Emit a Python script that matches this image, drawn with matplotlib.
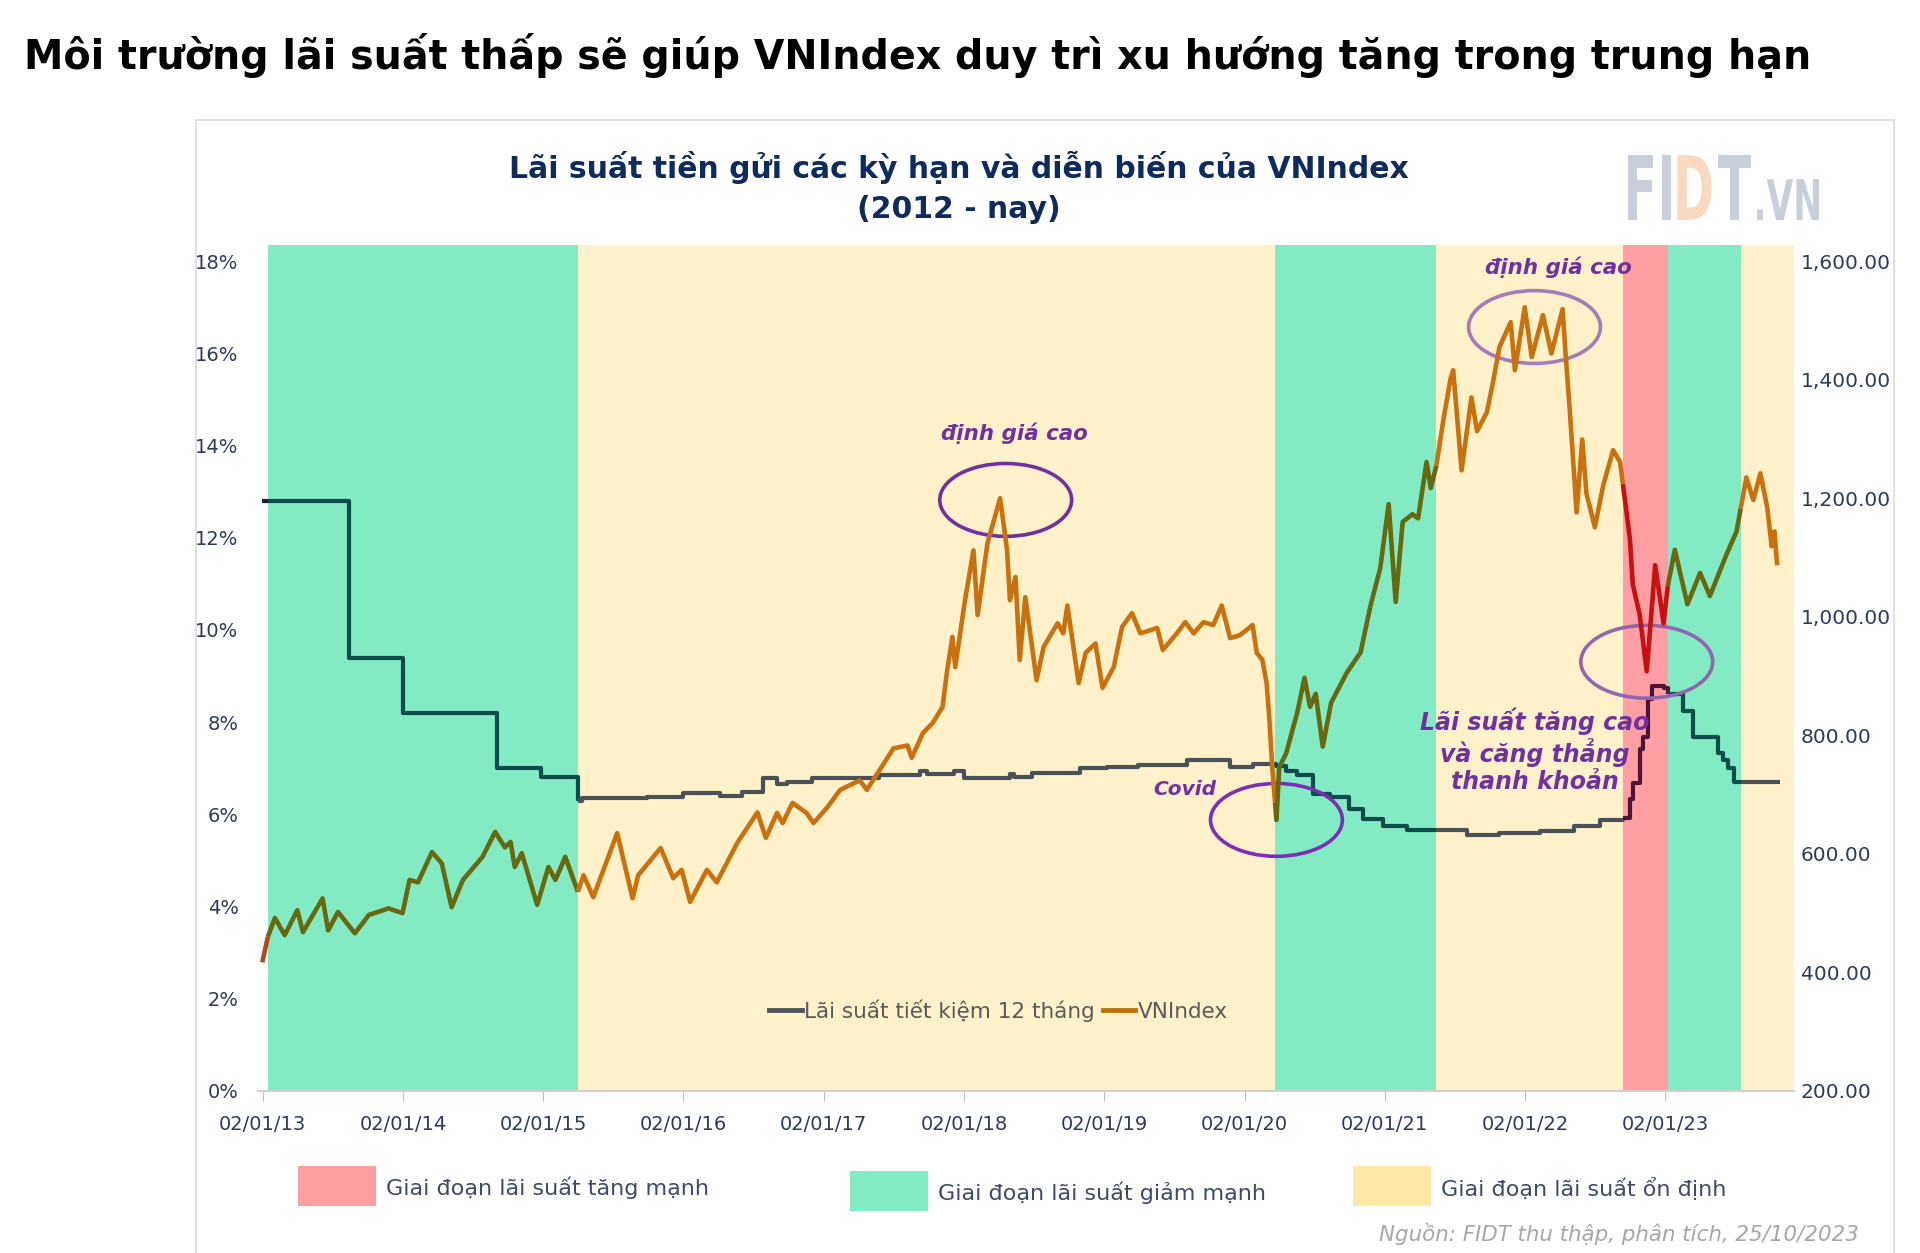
import matplotlib
matplotlib.use('Agg')
import matplotlib.pyplot as plt
from matplotlib.patches import Ellipse, Rectangle, PathPatch
from matplotlib.lines import Line2D
from matplotlib.textpath import TextPath
from matplotlib.font_manager import FontProperties
from matplotlib.transforms import Affine2D, IdentityTransform
import numpy as np

# DỮ LIỆU (năm thập phân)
nam_vn = [2013.00, 2013.04, 2013.09, 2013.16, 2013.25, 2013.29, 2013.43, 2013.47, 2013.54, 2013.66,
          2013.76, 2013.90, 2014.00, 2014.05, 2014.11, 2014.21, 2014.28, 2014.35, 2014.43, 2014.57,
          2014.66, 2014.73, 2014.77, 2014.80, 2014.85, 2014.96, 2015.04, 2015.09, 2015.16, 2015.25,
          2015.29, 2015.36, 2015.53, 2015.64, 2015.68, 2015.84, 2015.93, 2015.99, 2016.05, 2016.17,
          2016.24, 2016.39, 2016.53, 2016.59, 2016.67, 2016.71, 2016.78, 2016.88, 2016.93, 2017.03,
          2017.12, 2017.26, 2017.31, 2017.40, 2017.50, 2017.60, 2017.63, 2017.71, 2017.78, 2017.85,
          2017.88, 2017.92, 2017.94, 2018.01, 2018.07, 2018.10, 2018.17, 2018.26, 2018.31, 2018.33,
          2018.37, 2018.40, 2018.44, 2018.52, 2018.57, 2018.67, 2018.71, 2018.74, 2018.82, 2018.87,
          2018.94, 2018.99, 2019.07, 2019.13, 2019.20, 2019.26, 2019.38, 2019.42, 2019.52, 2019.58,
          2019.64, 2019.71, 2019.78, 2019.84, 2019.90, 2019.97, 2020.06, 2020.09, 2020.13, 2020.16,
          2020.18, 2020.20, 2020.23, 2020.25, 2020.30, 2020.38, 2020.43, 2020.47, 2020.51, 2020.56,
          2020.62, 2020.73, 2020.83, 2020.90, 2020.97, 2021.03, 2021.08, 2021.13, 2021.20, 2021.24,
          2021.30, 2021.33, 2021.37, 2021.42, 2021.47, 2021.49, 2021.55, 2021.62, 2021.66, 2021.73,
          2021.77, 2021.82, 2021.90, 2021.93, 2022.00, 2022.05, 2022.13, 2022.19, 2022.27, 2022.29,
          2022.32, 2022.37, 2022.41, 2022.44, 2022.50, 2022.56, 2022.63, 2022.68, 2022.75, 2022.77,
          2022.82, 2022.87, 2022.93, 2022.99, 2023.02, 2023.07, 2023.16, 2023.25, 2023.32, 2023.44,
          2023.51, 2023.58, 2023.63, 2023.68, 2023.73, 2023.76, 2023.78, 2023.80]
vnindex = [417, 460, 492, 463, 505, 468, 525, 471, 502, 466,
           497, 508, 500, 556, 552, 603, 584, 510, 556, 595,
           637, 611, 620, 578, 601, 514, 578, 556, 595, 536,
           564, 527, 635, 525, 564, 610, 559, 573, 519, 573,
           552, 620, 670, 627, 669, 652, 686, 669, 652, 679,
           708, 724, 708, 741, 778, 783, 762, 804, 821, 848,
           905, 966, 915, 1028, 1112, 1003, 1124, 1200, 1112, 1028,
           1067, 927, 1033, 893, 949, 989, 972, 1019, 888, 939,
           955, 880, 915, 983, 1006, 972, 981, 944, 972, 991,
           972, 991, 986, 1019, 964, 969, 986, 939, 927, 888,
           826, 746, 657, 746, 770, 840, 897, 848, 870, 781,
           855, 905, 940, 1018, 1082, 1190, 1025, 1160, 1173, 1166,
           1261, 1217, 1255, 1332, 1400, 1416, 1247, 1370, 1313, 1345,
           1391, 1455, 1497, 1416, 1522, 1438, 1509, 1444, 1519, 1448,
           1352, 1176, 1299, 1208, 1151, 1222, 1281, 1261, 1131, 1055,
           1003, 908, 1087, 989, 1052, 1113, 1021, 1074, 1035, 1106,
           1144, 1235, 1197, 1242, 1183, 1119, 1144, 1087]

nam_ls = [2013.00, 2013.62, 2014.00, 2014.67, 2014.99, 2015.25, 2015.28, 2015.74, 2016.00, 2016.26,
          2016.42, 2016.57, 2016.67, 2016.74, 2016.92, 2017.40, 2017.69, 2017.74, 2017.93, 2018.00,
          2018.33, 2018.36, 2018.49, 2018.83, 2019.02, 2019.24, 2019.59, 2019.90, 2020.06, 2020.23,
          2020.30, 2020.38, 2020.49, 2020.61, 2020.75, 2020.85, 2020.99, 2021.16, 2021.59, 2021.82,
          2022.11, 2022.35, 2022.54, 2022.70, 2022.75, 2022.77, 2022.82, 2022.84, 2022.88, 2022.91,
          2022.99, 2023.02, 2023.13, 2023.20, 2023.38, 2023.41, 2023.45, 2023.49, 2023.82]
lai_suat = [12.8, 9.4, 8.2, 7.0, 6.8, 6.28, 6.35, 6.38, 6.46, 6.40,
            6.49, 6.79, 6.66, 6.70, 6.79, 6.86, 6.94, 6.88, 6.93, 6.79,
            6.88, 6.81, 6.90, 7.00, 7.03, 7.07, 7.18, 7.03, 7.09, 7.05,
            6.95, 6.85, 6.44, 6.37, 6.12, 5.91, 5.75, 5.66, 5.56, 5.60,
            5.64, 5.75, 5.87, 5.92, 6.33, 6.68, 7.42, 7.67, 8.50, 8.79,
            8.74, 8.62, 8.25, 7.67, 7.33, 7.17, 7.00, 6.71, 6.71]

gd_bat_dau = [2013.04, 2015.25, 2020.22, 2021.37, 2022.70, 2023.02, 2023.54]
gd_ket_thuc = [2015.25, 2020.22, 2021.37, 2022.70, 2023.02, 2023.54, 2023.92]
gd_loai = ['giam', 'on_dinh', 'giam', 'on_dinh', 'tang', 'giam', 'on_dinh']

nam_ticks = list(range(2013, 2024))
nhan_ticks = ['02/01/13', '02/01/14', '02/01/15', '02/01/16', '02/01/17', '02/01/18',
              '02/01/19', '02/01/20', '02/01/21', '02/01/22', '02/01/23']

# MÀU
mau_nen = {'giam': '#83EBC3', 'on_dinh': '#FFF1C9', 'tang': '#FF9FA4'}
mau_vn = {'truoc': '#B04A1A', 'giam': '#67680F', 'on_dinh': '#C9700F', 'tang': '#C81010'}
mau_ls = {'truoc': '#0B1F4D', 'giam': '#0E4B4B', 'on_dinh': '#4A5158', 'tang': '#4C1535'}
xanh_dam = '#2E3A5C'
tim = '#7030A0'


# HÀM
def cat_doan(xs, ys, t0, t1, bac_thang):
    t1 = min(t1, xs[-1])
    if t1 <= t0:
        return None, None
    m = (xs > t0) & (xs < t1)
    if bac_thang:
        y0 = ys[np.searchsorted(xs, t0, side='right') - 1]
        y1 = ys[np.searchsorted(xs, t1, side='right') - 1]
    else:
        y0 = np.interp(t0, xs, ys)
        y1 = np.interp(t1, xs, ys)
    x = np.concatenate([[t0], xs[m], [t1]])
    y = np.concatenate([[y0], ys[m], [y1]])
    return x, y


def ve_duong(ax, xs, ys, mau, lw, bac_thang):
    xs = np.array(xs, dtype=float)
    ys = np.array(ys, dtype=float)
    ds = 'steps-post' if bac_thang else 'default'
    doan = [(xs[0], gd_bat_dau[0], 'truoc')] + list(zip(gd_bat_dau, gd_ket_thuc, gd_loai))
    for t0, t1, loai in doan:
        x, y = cat_doan(xs, ys, t0, t1, bac_thang)
        if x is None:
            continue
        ax.plot(x, y, color=mau[loai], lw=lw, drawstyle=ds, solid_joinstyle='round',
                solid_capstyle='butt', zorder=3)


# CORE
fig = plt.figure(figsize=(19.2, 12.53), dpi=100)
ax = fig.add_axes([0.1344, 0.1293, 0.8, 0.6752])
ax2 = ax.twinx()

y_top = 18.35
ax.set_xlim(2012.97, 2023.92)
ax.set_ylim(0, y_top)
ax2.set_ylim(200, 200 + y_top / 18 * 1400)

for t0, t1, loai in zip(gd_bat_dau, gd_ket_thuc, gd_loai):
    ax.axvspan(t0, t1, color=mau_nen[loai], lw=0, zorder=0)

ve_duong(ax, nam_ls, lai_suat, mau_ls, 3.0, True)
ve_duong(ax2, nam_vn, vnindex, mau_vn, 3.3, False)

# trục
ax.set_yticks(range(0, 19, 2))
ax.set_yticklabels([f'{v}%' for v in range(0, 19, 2)])
ax2.set_yticks(range(200, 1601, 200))
ax2.set_yticklabels([f'{v:,.2f}' for v in range(200, 1601, 200)])
ax.set_xticks([n + 1 / 365 for n in nam_ticks])
ax.set_xticklabels(nhan_ticks)
ax.tick_params(axis='y', length=0, labelsize=14, labelcolor=xanh_dam, pad=14)
ax2.tick_params(axis='y', length=0, labelsize=14.5, labelcolor=xanh_dam, pad=5)
ax.tick_params(axis='x', length=7, color='#BFBFBF', labelsize=14, labelcolor=xanh_dam, pad=10)
for s in ['top', 'left', 'right']:
    ax.spines[s].set_visible(False)
    ax2.spines[s].set_visible(False)
ax2.spines['bottom'].set_visible(False)
ax.spines['bottom'].set_color('#D0D0D0')
ax.spines['bottom'].set_linewidth(1.5)

# chú thích trong biểu đồ
tay_cam = [Line2D([0], [0], color='#4F5459', lw=3.5), Line2D([0], [0], color='#C07010', lw=3.5)]
ax.legend(tay_cam, ['Lãi suất tiết kiệm 12 tháng', 'VNIndex'], loc='center',
          bbox_to_anchor=(0.482, 0.095), ncol=2, frameon=False, fontsize=15.5,
          handlelength=1.5, handletextpad=0.1, columnspacing=0.4, labelcolor='#595959')

# vòng tròn + ghi chú
vong = [(2018.30, 12.82, '#7030A0'), (2022.07, 16.57, '#A47AB8'),
        (2020.23, 5.88, '#7B2FB5'), (2022.87, 9.31, '#9365B0')]
for cx, cy, c in vong:
    ax.add_patch(Ellipse((cx, cy), 0.94, 1.58, fill=False, ec=c, lw=2.6, zorder=5))
ghi_chu = dict(color=tim, fontweight='bold', style='italic', ha='center', va='center', zorder=6)
ax.text(2018.36, 14.27, 'định giá cao', fontsize=15.4, **ghi_chu)
ax.text(2022.24, 17.87, 'định giá cao', fontsize=15.4, **ghi_chu)
ax.text(2019.58, 6.53, 'Covid', fontsize=14.5, **ghi_chu)
ax.text(2022.07, 7.38, 'Lãi suất tăng cao\nvà căng thẳng\nthanh khoản', fontsize=17,
        linespacing=1.12, **ghi_chu)

# khung
fig.patches.append(Rectangle((196 / 1920, -0.05), (1894 - 196) / 1920, 0.954, transform=fig.transFigure,
                             fill=False, ec='#DADADA', lw=1.2))

# tiêu đề
fig.text(0.0125, 0.956, 'Môi trường lãi suất thấp sẽ giúp VNIndex duy trì xu hướng tăng trong trung hạn',
         fontsize=28.5, fontweight='bold', ha='left', va='center', color='black')
fig.text(0.4995, 0.866, 'Lãi suất tiền gửi các kỳ hạn và diễn biến của VNIndex',
         fontsize=21.5, fontweight='bold', ha='center', va='center', color='#0D2B5E')
fig.text(0.4995, 0.833, '(2012 - nay)', fontsize=21.5, fontweight='bold', ha='center', va='center',
         color='#0D2B5E')

# logo mờ (chữ ép hẹp)
fp = FontProperties(family='DejaVu Sans', weight='bold')
kich = 89
rong_fidt = TextPath((0, 0), 'FIDT', size=kich, prop=fp).get_extents().width
sx = 123 / rong_fidt
x0 = 1628
day = 1253 - 220
for chu, c, s in [('FI', '#C7D0DA', 1.0), ('D', '#FAD9C0', 1.0), ('T', '#C7D0DA', 1.0), ('.VN', '#C7D0DA', 0.63)]:
    tp = TextPath((0, 0), chu, size=kich * s, prop=fp)
    ext = tp.get_extents()
    tr = Affine2D().translate(-ext.x0, 0).scale(sx * (1.1 if s < 1 else 1), 1.0).translate(x0, day)
    fig.patches.append(PathPatch(tp, transform=tr + IdentityTransform(), fc=c, ec='none'))
    x0 += ext.width * sx * (1.1 if s < 1 else 1) + 6

# chú thích dưới
chu_giai = [((298, 1166), '#FF9EA2', 'Giai đoạn lãi suất tăng mạnh'),
            ((850, 1171), '#83EBC3', 'Giai đoạn lãi suất giảm mạnh'),
            ((1353, 1166), '#FFE7A6', 'Giai đoạn lãi suất ổn định')]
for (px, py), c, nhan in chu_giai:
    fig.patches.append(Rectangle((px / 1920, 1 - (py + 40) / 1253), 78 / 1920, 40 / 1253,
                                 transform=fig.transFigure, color=c, lw=0))
    fig.text((px + 88) / 1920, 1 - (py + 22) / 1253, nhan, fontsize=16, color='#3E4A68',
             ha='left', va='center')

fig.text(0.968, 0.0152, 'Nguồn: FIDT thu thập, phân tích, 25/10/2023', fontsize=15.4, style='italic',
         color='#A6A6A6', ha='right', va='center')

plt.savefig('out.png', dpi=100)
